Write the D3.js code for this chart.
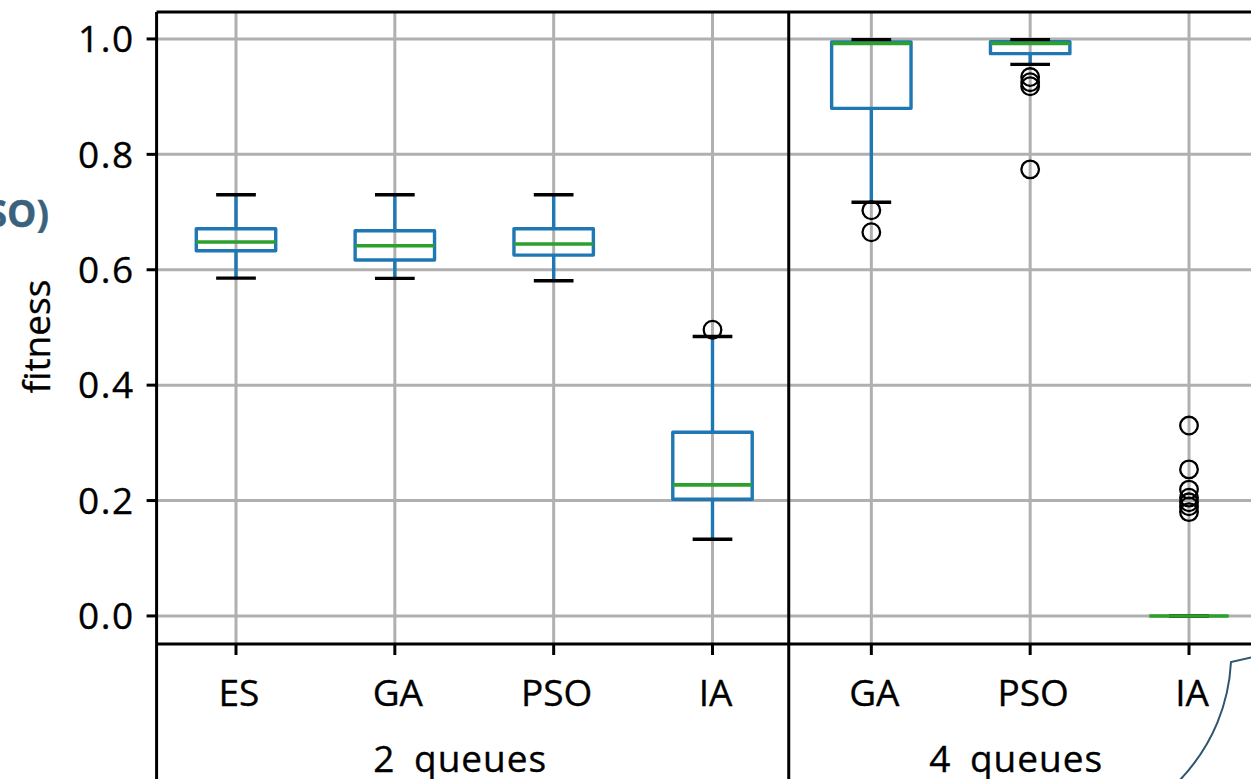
<!DOCTYPE html>
<meta charset="utf-8" />
<script src="https://d3js.org/d3.v7.min.js"></script>
<style>
  body { margin: 0; background: #fff; }
  svg { display: block; overflow: hidden; }
  text { font-family: "Open Sans", sans-serif; fill: #000; stroke: #000; stroke-width: 0.35px; }
</style>
<div id="chart"></div>

<script>
  // categories (two levels: queue count, algorithm)
  const groups = ["2 queues", "4 queues"];
  const algos = ["ES", "GA", "PSO", "IA", "GA", "PSO", "IA"];
  const groupOf = [0, 0, 0, 0, 1, 1, 1];

  // box statistics
  const whisLo = [0.5855, 0.585, 0.581, 0.133, 0.717, 0.956, 0.0];
  const q1 = [0.633, 0.617, 0.6254, 0.2023, 0.8797, 0.9745, 0.0];
  const med = [0.648, 0.6416, 0.6445, 0.2271, 0.9924, 0.9924, 0.0];
  const q3 = [0.671, 0.6676, 0.671, 0.3185, 0.995, 0.9953, 0.0];
  const whisHi = [0.73, 0.73, 0.73, 0.4843, 0.9988, 0.9988, 0.0];
  const fliers = [
    [],
    [],
    [],
    [0.496],
    [0.703, 0.665],
    [0.934, 0.925, 0.918, 0.774],
    [0.33, 0.254, 0.219, 0.205, 0.197, 0.19, 0.18],
  ];
  const yTicks = [0.0, 0.2, 0.4, 0.6, 0.8, 1.0];

  const W = 1251, H = 779;
  const plotTop = 12, plotBottom = 644;

  const svg = d3
    .select("#chart")
    .append("svg")
    .attr("width", W)
    .attr("height", H);

  const x = d3.scalePoint().domain(d3.range(algos.length)).range([236, 1189]);
  const step = x.step();
  const plotLeft = x(0) - step / 2;
  const plotRight = x(algos.length - 1) + step / 2;
  const y = d3.scaleLinear().domain([-0.0486, 1.0467]).range([plotBottom, plotTop]);

  const boxW = step * 0.5;

  // grid
  svg
    .append("g")
    .selectAll("line")
    .data(yTicks)
    .join("line")
    .attr("x1", plotLeft)
    .attr("x2", plotRight)
    .attr("y1", (d) => y(d))
    .attr("y2", (d) => y(d))
    .attr("stroke", "#b0b0b0")
    .attr("stroke-width", 3);

  svg
    .append("g")
    .selectAll("line")
    .data(d3.range(algos.length))
    .join("line")
    .attr("x1", (d) => x(d))
    .attr("x2", (d) => x(d))
    .attr("y1", plotTop)
    .attr("y2", plotBottom)
    .attr("stroke", "#b0b0b0")
    .attr("stroke-width", 3);

  // boxes
  const data = d3.range(algos.length).map((i) => ({
    i,
    lo: whisLo[i],
    q1: q1[i],
    med: med[i],
    q3: q3[i],
    hi: whisHi[i],
    out: fliers[i],
  }));

  const bx = svg.append("g").selectAll("g").data(data).join("g");

  bx.append("rect")
    .attr("x", (d) => x(d.i) - boxW / 2)
    .attr("width", boxW)
    .attr("y", (d) => y(d.q3))
    .attr("height", (d) => y(d.q1) - y(d.q3))
    .attr("fill", "none")
    .attr("stroke", "#1f77b4")
    .attr("stroke-width", 3.4)
    .attr("stroke-linejoin", "round");

  bx.append("line")
    .attr("x1", (d) => x(d.i))
    .attr("x2", (d) => x(d.i))
    .attr("y1", (d) => y(d.q3))
    .attr("y2", (d) => y(d.hi))
    .attr("stroke", "#1f77b4")
    .attr("stroke-width", 3.4);

  bx.append("line")
    .attr("x1", (d) => x(d.i))
    .attr("x2", (d) => x(d.i))
    .attr("y1", (d) => y(d.q1))
    .attr("y2", (d) => y(d.lo))
    .attr("stroke", "#1f77b4")
    .attr("stroke-width", 3.4);

  ["hi", "lo"].forEach((k) => {
    bx.append("line")
      .attr("x1", (d) => x(d.i) - boxW / 4)
      .attr("x2", (d) => x(d.i) + boxW / 4)
      .attr("y1", (d) => y(d[k]))
      .attr("y2", (d) => y(d[k]))
      .attr("stroke", "#000")
      .attr("stroke-width", 3.4);
  });

  bx.append("line")
    .attr("x1", (d) => x(d.i) - boxW / 2)
    .attr("x2", (d) => x(d.i) + boxW / 2)
    .attr("y1", (d) => y(d.med))
    .attr("y2", (d) => y(d.med))
    .attr("stroke", "#2ca02c")
    .attr("stroke-width", 3.6);

  bx.selectAll("circle")
    .data((d) => d.out.map((v) => ({ i: d.i, v })))
    .join("circle")
    .attr("cx", (d) => x(d.i))
    .attr("cy", (d) => y(d.v))
    .attr("r", 8.8)
    .attr("fill", "none")
    .attr("stroke", "#000")
    .attr("stroke-width", 2.3);

  // spines
  function spine(x1, y1, x2, y2) {
    svg.append("line")
      .attr("x1", x1).attr("y1", y1).attr("x2", x2).attr("y2", y2)
      .attr("stroke", "#000")
      .attr("stroke-width", 3);
  }
  spine(plotLeft, plotTop, plotRight, plotTop);
  spine(plotLeft, plotBottom, plotRight, plotBottom);
  spine(plotLeft, plotTop, plotLeft, H);
  spine(x(3) + step * 0.48, plotTop, x(3) + step * 0.48, H);

  // y axis
  const yAxis = svg.append("g");
  yAxis
    .selectAll("line")
    .data(yTicks)
    .join("line")
    .attr("x1", plotLeft - 10)
    .attr("x2", plotLeft)
    .attr("y1", (d) => y(d))
    .attr("y2", (d) => y(d))
    .attr("stroke", "#000")
    .attr("stroke-width", 3);
  yAxis
    .selectAll("text")
    .data(yTicks)
    .join("text")
    .attr("x", plotLeft - 22)
    .attr("y", (d) => y(d))
    .attr("dy", "0.36em")
    .attr("text-anchor", "end")
    .style("font-size", "37px")
    .style("letter-spacing", "1.5px")
    .text((d) => d3.format(".1f")(d));

  svg
    .append("text")
    .attr("transform", `translate(50, ${(280 + 393) / 2}) rotate(-90)`)
    .attr("text-anchor", "middle")
    .style("font-size", "37px")
    .text("fitness");

  // x axis
  const xAxis = svg.append("g");
  xAxis
    .selectAll("line")
    .data(d3.range(algos.length))
    .join("line")
    .attr("x1", (d) => x(d))
    .attr("x2", (d) => x(d))
    .attr("y1", plotBottom)
    .attr("y2", plotBottom + 11)
    .attr("stroke", "#000")
    .attr("stroke-width", 3);
  xAxis
    .selectAll("text.algo")
    .data(d3.range(algos.length))
    .join("text")
    .attr("class", "algo")
    .attr("x", (d) => x(d) + 3)
    .attr("y", 706)
    .attr("text-anchor", "middle")
    .style("font-size", "37px")
    .text((d) => algos[d]);

  // group labels sit on the bottom edge, descenders cut as in the source
  xAxis
    .selectAll("text.group")
    .data(groups)
    .join("text")
    .attr("class", "group")
    .attr("x", (g, gi) => d3.mean(d3.range(algos.length).filter((i) => groupOf[i] === gi), x) - 14)
    .attr("y", 772)
    .attr("text-anchor", "middle")
    .style("font-size", "37px")
    .style("letter-spacing", "1px")
    .style("word-spacing", "8px")
    .text((g) => g);

  // bits of the surrounding slide that fall inside the crop
  svg
    .append("text")
    .attr("x", 49)
    .attr("y", 227)
    .attr("text-anchor", "end")
    .style("font-size", "37px")
    .style("font-weight", "bold")
    .style("fill", "#3b627c")
    .style("stroke", "#3b627c")
    .text("(PSO)");

  svg
    .append("path")
    .attr("d", "M1253,657 L1231,662 C1229,700 1215,745 1176,784")
    .attr("fill", "none")
    .attr("stroke", "#2f5670")
    .attr("stroke-width", 2);
</script>
